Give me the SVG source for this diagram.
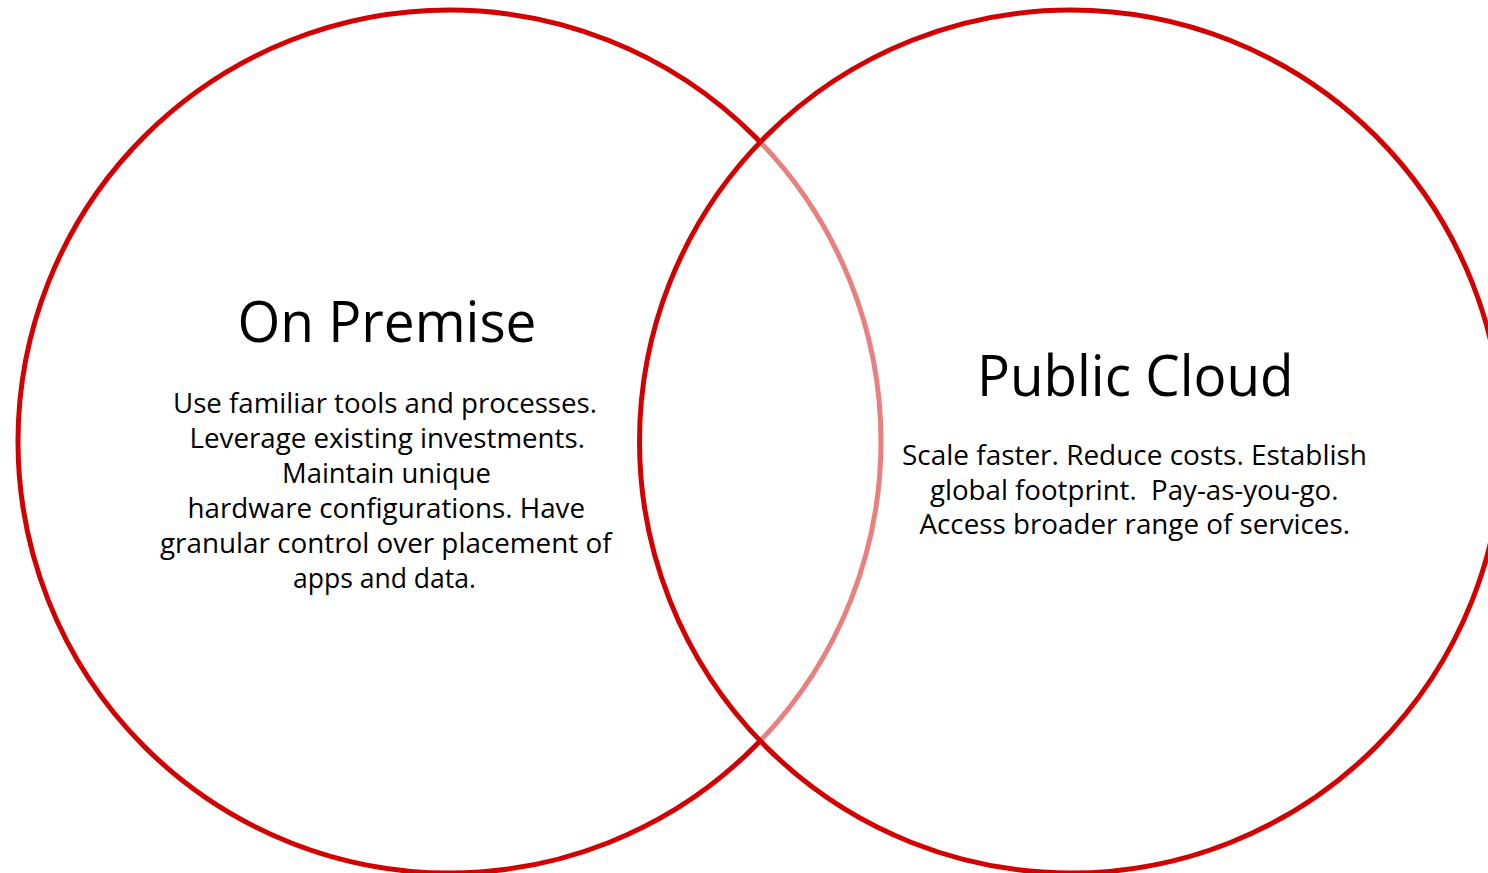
<svg xmlns="http://www.w3.org/2000/svg" width="1488" height="873" viewBox="0 0 1488 873">
<style>
.ring{stroke:#D20000;stroke-width:5}
.title{font-family:"Open Sans","Liberation Sans",sans-serif;font-size:57px;fill:#000}
.body{font-family:"Open Sans","Liberation Sans",sans-serif;font-size:27px;fill:#000}
</style>
<rect width="1488" height="873" fill="#fff"/>
<g id="on-premise-circle">
<circle class="ring" cx="449.5" cy="441.5" r="431.5" fill="#fff"/>
</g>
<g id="public-cloud-circle">
<circle class="ring" cx="1071" cy="441.5" r="431.5" fill="#fff" fill-opacity="0.5"/>
</g>
<g id="on-premise">
<text class="title" x="237.5" y="341.5" textLength="299" lengthAdjust="spacingAndGlyphs">On Premise</text>
<text class="body" x="173" y="412.5" textLength="424" lengthAdjust="spacingAndGlyphs">Use familiar tools and processes.</text>
<text class="body" x="189.5" y="448" textLength="395.5" lengthAdjust="spacingAndGlyphs">Leverage existing investments.</text>
<text class="body" x="282" y="483" textLength="209" lengthAdjust="spacingAndGlyphs">Maintain unique</text>
<text class="body" x="187.5" y="518" textLength="397.5" lengthAdjust="spacingAndGlyphs">hardware configurations. Have</text>
<text class="body" x="160" y="553" textLength="451.5" lengthAdjust="spacingAndGlyphs">granular control over placement of</text>
<text class="body" x="293" y="587.5" textLength="183" lengthAdjust="spacingAndGlyphs">apps and data.</text>
</g>
<g id="public-cloud">
<text class="title" x="977" y="395.5" textLength="316.5" lengthAdjust="spacingAndGlyphs">Public Cloud</text>
<text class="body" x="902" y="465" textLength="465" lengthAdjust="spacingAndGlyphs">Scale faster. Reduce costs. Establish</text>
<text class="body" x="930" y="499.5" textLength="408.5" lengthAdjust="spacingAndGlyphs" xml:space="preserve">global footprint.  Pay-as-you-go.</text>
<text class="body" x="919.5" y="534" textLength="430.5" lengthAdjust="spacingAndGlyphs">Access broader range of services.</text>
</g>
</svg>
